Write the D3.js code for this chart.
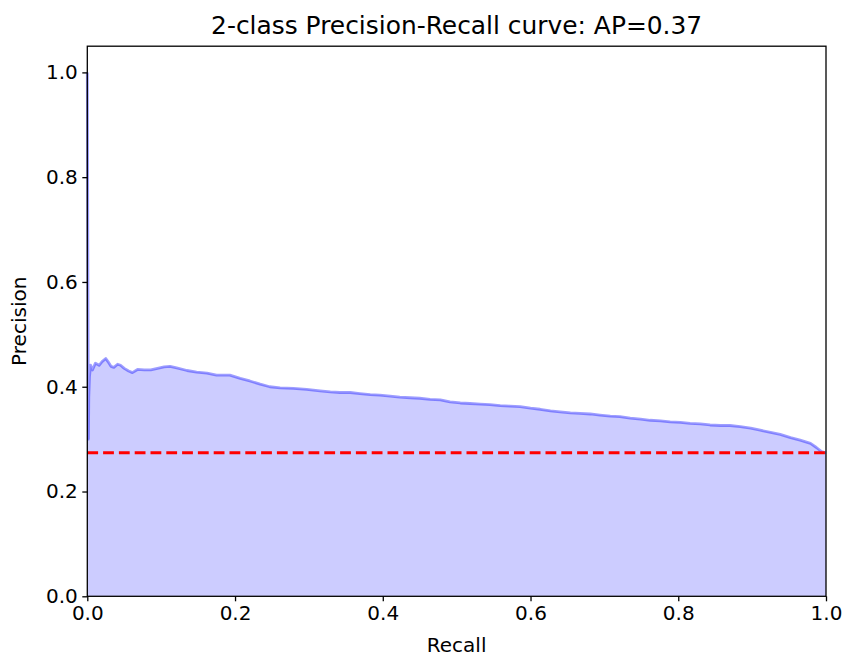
<!DOCTYPE html>
<html>
<head>
<meta charset="utf-8">
<script src="https://cdn.jsdelivr.net/npm/d3@7"></script>
<style>
  html, body { margin: 0; padding: 0; background: #fff; }
  svg { display: block; font-family: "DejaVu Sans", sans-serif; }
</style>
</head>
<body>
<svg id="chart" width="843" height="657"></svg>
<script>
// Precision-recall curve samples (recall ascending)
const recall = [0, 0.001, 0.0015, 0.002, 0.003, 0.0045, 0.007, 0.011, 0.016, 0.020,
  0.025, 0.028, 0.032, 0.036, 0.041, 0.045, 0.050, 0.056, 0.061, 0.068,
  0.077, 0.086, 0.095, 0.104, 0.112, 0.121, 0.135, 0.148, 0.162, 0.175,
  0.193, 0.207, 0.220, 0.234, 0.247, 0.261, 0.279, 0.297, 0.315, 0.329,
  0.342, 0.356, 0.369, 0.383, 0.396, 0.410, 0.423, 0.437, 0.450, 0.464,
  0.478, 0.491, 0.505, 0.518, 0.532, 0.545, 0.559, 0.572, 0.586, 0.600,
  0.613, 0.627, 0.640, 0.654, 0.667, 0.681, 0.694, 0.708, 0.721, 0.735,
  0.749, 0.762, 0.776, 0.789, 0.803, 0.816, 0.830, 0.843, 0.857, 0.870,
  0.884, 0.898, 0.911, 0.925, 0.938, 0.952, 0.965, 0.979, 0.987, 0.994, 1.0];
const precision = [1.0, 0.54, 0.30, 0.38, 0.42, 0.441, 0.432, 0.445, 0.441, 0.448,
  0.454, 0.448, 0.439, 0.437, 0.443, 0.441, 0.435, 0.430, 0.427, 0.433,
  0.432, 0.432, 0.435, 0.438, 0.439, 0.436, 0.431, 0.428, 0.426, 0.422,
  0.422, 0.416, 0.411, 0.405, 0.400, 0.398, 0.397, 0.395, 0.392, 0.390,
  0.389, 0.389, 0.387, 0.385, 0.384, 0.382, 0.380, 0.379, 0.378, 0.376,
  0.375, 0.371, 0.369, 0.368, 0.367, 0.366, 0.364, 0.363, 0.362, 0.359,
  0.357, 0.354, 0.352, 0.350, 0.349, 0.348, 0.346, 0.344, 0.343, 0.340,
  0.338, 0.336, 0.335, 0.333, 0.332, 0.330, 0.329, 0.327, 0.326, 0.326,
  0.324, 0.321, 0.317, 0.313, 0.309, 0.303, 0.298, 0.292, 0.284, 0.276, 0.274];

// Positive-class rate (no-skill baseline)
const baseline = [0.274];

const xTicks = [0, 0.2, 0.4, 0.6, 0.8, 1.0];
const yTicks = [0, 0.2, 0.4, 0.6, 0.8, 1.0];
const titleText = "2-class Precision-Recall curve: AP=0.37";
const xLabel = "Recall";
const yLabel = "Precision";

const points = recall.map((r, i) => ({ r: r, p: precision[i] }));

const plotLeft = 87.3, plotRight = 826, plotTop = 46.2, plotBottom = 596.3;
const tickFont = "20px", titleFont = "24.9px";
const svg = d3.select("#chart");

const x = d3.scaleLinear().domain([0, 1]).range([plotLeft, plotRight]);
const y = d3.scaleLinear().domain([0, 1.05]).range([plotBottom, plotTop]);

const plot = svg.append("g");

// Filled area under the curve
const area = d3.area()
  .x(d => x(d.r))
  .y0(y(0))
  .y1(d => y(d.p));
plot.append("path")
  .datum(points)
  .attr("d", area)
  .attr("fill", "#ccccff");

// Curve outline
const line = d3.line()
  .x(d => x(d.r))
  .y(d => y(d.p));
plot.append("path")
  .datum(points)
  .attr("d", line)
  .attr("fill", "none")
  .attr("stroke", "#0000ff")
  .attr("stroke-opacity", 0.38)
  .attr("stroke-width", 2.8)
  .attr("stroke-linejoin", "round");

// Baseline dashed line
plot.selectAll("line.base")
  .data(baseline)
  .enter().append("line")
  .attr("class", "base")
  .attr("x1", x(0)).attr("x2", x(1))
  .attr("y1", d => y(d)).attr("y2", d => y(d))
  .attr("stroke", "#ff0000")
  .attr("stroke-width", 2.8)
  .attr("stroke-dasharray", "10.8,5");

// Axes
const fmt = d3.format(".1f");
const xAxis = svg.append("g")
  .attr("transform", `translate(0,${plotBottom})`)
  .call(d3.axisBottom(x).tickValues(xTicks).tickFormat(fmt).tickSize(5).tickPadding(4.5));
const yAxis = svg.append("g")
  .attr("transform", `translate(${plotLeft},0)`)
  .call(d3.axisLeft(y).tickValues(yTicks).tickFormat(fmt).tickSize(5).tickPadding(4.5));

[xAxis, yAxis].forEach(g => {
  g.select(".domain").remove();
  g.selectAll(".tick line").attr("stroke", "#000").attr("stroke-width", 1.3);
  g.selectAll(".tick text")
    .attr("fill", "#000")
    .style("font-family", "'DejaVu Sans', sans-serif")
    .style("font-size", tickFont);
});

// Frame around the plot area
svg.append("rect")
  .attr("x", plotLeft).attr("y", plotTop)
  .attr("width", plotRight - plotLeft).attr("height", plotBottom - plotTop)
  .attr("fill", "none")
  .attr("stroke", "#000")
  .attr("stroke-width", 1.3);

// Labels
svg.append("text")
  .attr("x", (plotLeft + plotRight) / 2).attr("y", 651.5)
  .attr("text-anchor", "middle")
  .style("font-size", tickFont)
  .text(xLabel);

svg.append("text")
  .attr("transform", `translate(26,${(plotTop + plotBottom) / 2}) rotate(-90)`)
  .attr("text-anchor", "middle")
  .style("font-size", tickFont)
  .text(yLabel);

svg.append("text")
  .attr("x", (plotLeft + plotRight) / 2).attr("y", 34)
  .attr("text-anchor", "middle")
  .style("font-size", titleFont)
  .text(titleText);
</script>
</body>
</html>
